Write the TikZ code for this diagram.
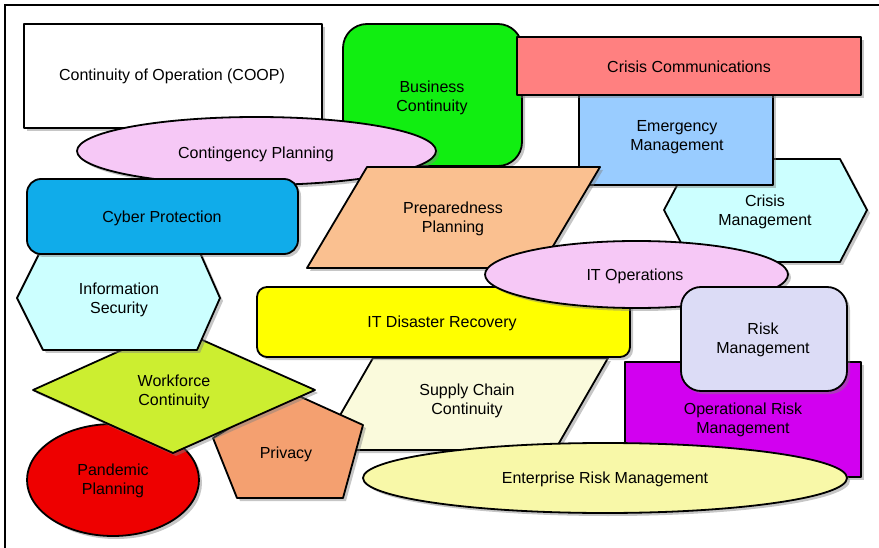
\documentclass[tikz,border=0pt]{standalone}
\usepackage{fontspec}
\setmainfont{Liberation Sans}
\usepackage{tikz}
\usetikzlibrary{shapes.geometric}
\usetikzlibrary{shadows}
\definecolor{coopfill}{HTML}{FFFFFF}
\definecolor{bcfill}{HTML}{11EE11}
\definecolor{ccfill}{HTML}{FF8080}
\definecolor{emfill}{HTML}{99CCFF}
\definecolor{pinkfill}{HTML}{F6C8F6}
\definecolor{cyberfill}{HTML}{10ACEA}
\definecolor{prepfill}{HTML}{FAC090}
\definecolor{cyanfill}{HTML}{CCFFFF}
\definecolor{itdrfill}{HTML}{FFFF00}
\definecolor{rmfill}{HTML}{DCDCF6}
\definecolor{ormfill}{HTML}{D200F0}
\definecolor{supplyfill}{HTML}{FAFADC}
\definecolor{ermfill}{HTML}{F8F8A8}
\definecolor{wffill}{HTML}{CCEE30}
\definecolor{privfill}{HTML}{F4A070}
\definecolor{pandfill}{HTML}{EE0000}

\begin{document}
\begin{tikzpicture}[x=1pt,y=-1pt,
		part/.style={draw=black,line width=1.8pt,line join=round,
			drop shadow={shadow xshift=3pt,shadow yshift=-3pt,opacity=0.45}},
		box/.style={part,rectangle,inner sep=0pt},
		oval/.style={part,ellipse,inner sep=0pt},
		caption/.style={font=\fontsize{16}{19}\selectfont,align=center,text=black}]
		\useasboundingbox (0,0) rectangle (879,548);
		\draw[line width=1.6pt] (5,5) rectangle (890,560);
		
		% top row
		\node[box,fill=coopfill,minimum width=298pt,minimum height=104pt] (coop) at (173,76) {};
		\node[caption] (cooptext) at (172,76) {Continuity of Operation (COOP)};
		\node[box,rounded corners=24pt,fill=bcfill,minimum width=179pt,minimum height=142pt] (bc) at (432.5,95) {};
		\node[caption] (bctext) at (432,98) {Business\\Continuity};
		\draw[part,fill=cyanfill] (691,159) -- (840,159) -- (867,210) -- (840,262) -- (691,262) -- (664,210) -- cycle;
		\node[caption] (cmtext) at (765,212) {Crisis\\Management};
		\node[box,fill=emfill,minimum width=194pt,minimum height=98pt] (em) at (676,136) {};
		\node[caption] (emtext) at (677,137) {Emergency\\Management};
		\node[box,fill=ccfill,minimum width=344pt,minimum height=58pt] (cc) at (689,66) {};
		\node[caption] (cctext) at (689,67) {Crisis Communications};
		\node[oval,fill=pinkfill,minimum width=359pt,minimum height=68pt] (cp) at (256.5,151) {};
		\node[caption] (cptext) at (256,154) {Contingency Planning};
		\draw[part,fill=prepfill] (367,167) -- (600,167) -- (540,268) -- (307,268) -- cycle;
		\node[caption] (preptext) at (453,219) {Preparedness\\Planning};
		
		% middle and bottom left
		\draw[part,fill=supplyfill] (373,358) -- (608,358) -- (555,450) -- (320,450) -- cycle;
		\node[caption] (supplytext) at (467,401) {Supply Chain\\Continuity};
		\draw[part,fill=privfill] (290,392) -- (363,425) -- (343,498) -- (237,498) -- (213,438) -- cycle;
		\node[caption] (privtext) at (286,454) {Privacy};
		\node[oval,fill=pandfill,minimum width=172pt,minimum height=112pt] (pand) at (113,480) {};
		\node[caption] (pandtext) at (113,481) {Pandemic\\Planning};
		\draw[part,fill=wffill] (173,327) -- (315,390) -- (173,453) -- (33,390) -- cycle;
		\node[caption] (wftext) at (174,392) {Workforce\\Continuity};
		\draw[part,fill=cyanfill] (43,246) -- (197,246) -- (220,298) -- (197,350) -- (43,350) -- (17,298) -- cycle;
		\node[caption] (istext) at (119,300) {Information\\Security};
		\node[box,rounded corners=14pt,fill=cyberfill,minimum width=271pt,minimum height=75pt] (cyber) at (162.5,216.5) {};
		\node[caption] (cybertext) at (162,218) {Cyber Protection};
		\node[box,rounded corners=10pt,fill=itdrfill,minimum width=373pt,minimum height=70pt] (itdr) at (443.5,322) {};
		\node[caption] (itdrtext) at (442,323) {IT Disaster Recovery};
		\node[oval,fill=pinkfill,minimum width=303pt,minimum height=67pt] (itops) at (636.5,274.5) {};
		\node[caption] (itopstext) at (635,276) {IT Operations};
		
		% bottom right
		\node[box,fill=ormfill,minimum width=236pt,minimum height=115pt] (orm) at (743,419.5) {};
		\node[caption] (ormtext) at (743,420) {Operational Risk\\Management};
		\node[box,rounded corners=20pt,fill=rmfill,minimum width=166pt,minimum height=104pt] (rm) at (764,339) {};
		\node[caption] (rmtext) at (763,340) {Risk\\Management};
		\node[oval,fill=ermfill,minimum width=484pt,minimum height=70pt] (erm) at (605,478) {};
		\node[caption] (ermtext) at (605,479) {Enterprise Risk Management};
\end{tikzpicture}
\end{document}
